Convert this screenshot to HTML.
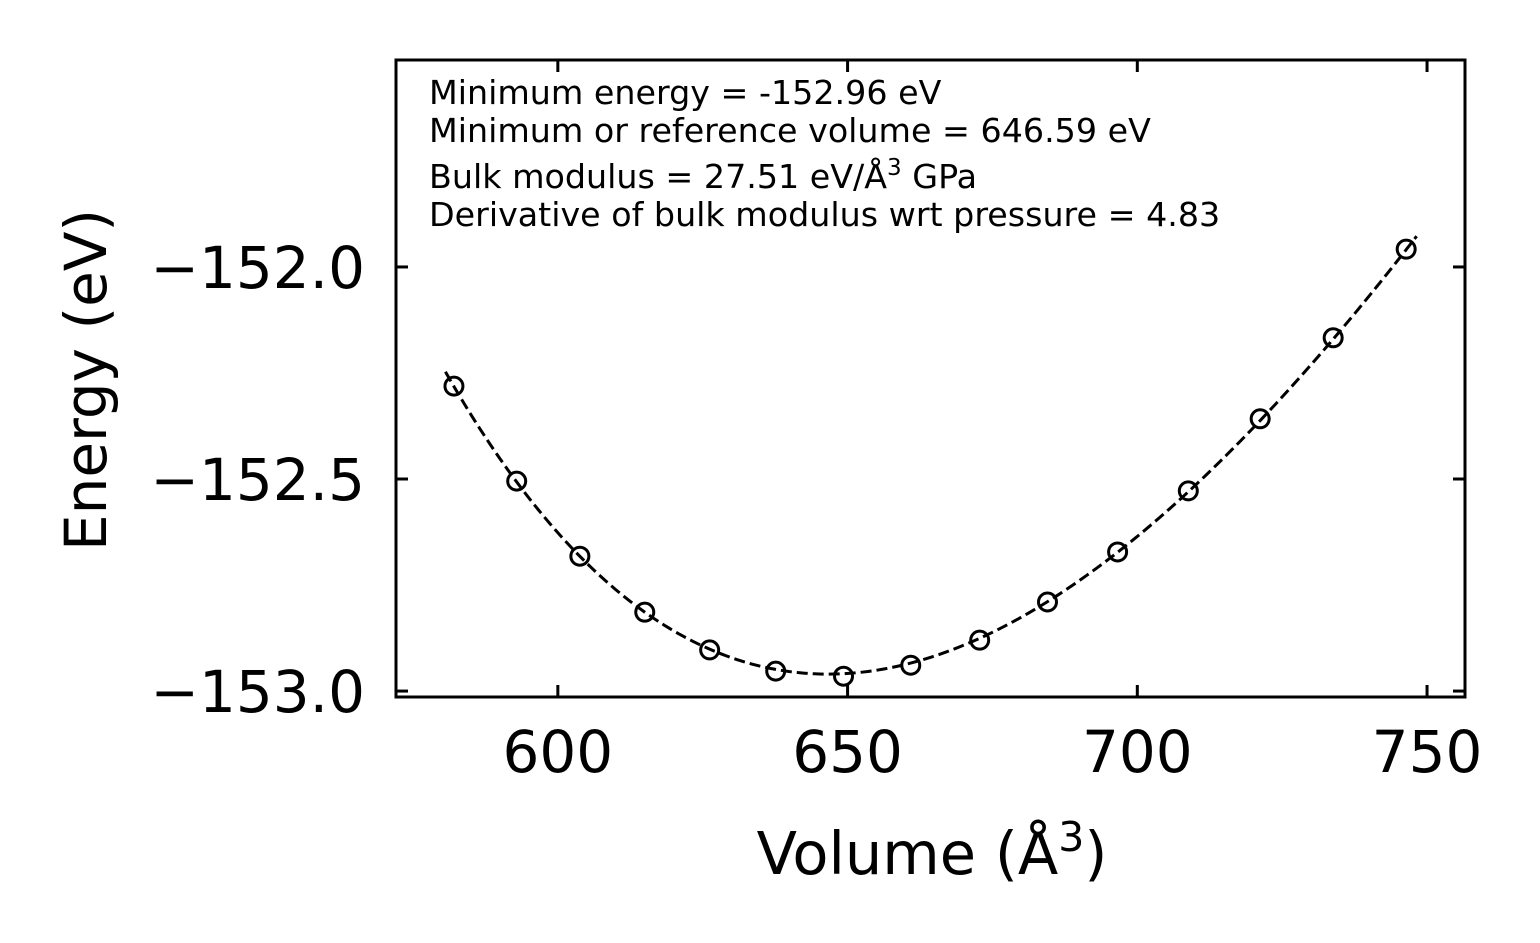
<!DOCTYPE html>
<html><head><meta charset="utf-8"><style>
body{margin:0;background:#fff}
svg{display:block;font-family:"DejaVu Sans","Liberation Sans",sans-serif}
</style></head><body>
<svg id="chart" width="1540" height="943">
<g id="plot"></g>
<g font-size="33.3" fill="#000">
<text x="429" y="104">Minimum energy = -152.96 eV</text>
<text x="429" y="142">Minimum or reference volume = 646.59 eV</text>
<text x="429" y="188">Bulk modulus = 27.51 eV/Å<tspan dy="-13" font-size="23">3</tspan><tspan dy="13"> GPa</tspan></text>
<text x="429" y="226">Derivative of bulk modulus wrt pressure = 4.83</text>
</g>
<text x="932" y="874" text-anchor="middle" font-size="59">Volume (Å<tspan dy="-23" font-size="41">3</tspan><tspan dy="23">)</tspan></text>
<text transform="translate(106,380) rotate(-90)" text-anchor="middle" font-size="58">Energy (eV)</text>
</svg>
<script>
const volumes=[582.07,592.9,603.8,615.0,626.2,637.6,649.3,660.9,672.8,684.5,696.6,708.8,721.2,733.8,746.4];
const energies=[-152.281,-152.505,-152.682,-152.814,-152.903,-152.953,-152.965,-152.939,-152.880,-152.790,-152.672,-152.528,-152.358,-152.167,-151.958];
const xTicks=[600,650,700,750];
const yTicks=[-152.0,-152.5,-153.0];
const fitParams=[-152.96,646.59,27.51,4.83];
const fitRange=[580.6,748.2];

const L=396,R=1465,T=60,B=697;
const xMin=572.07,xMax=756.55,yMin=-153.014,yMax=-151.512;
const sx=v=>L+(v-xMin)/(xMax-xMin)*(R-L);
const sy=v=>B-(v-yMin)/(yMax-yMin)*(B-T);
const NS="http://www.w3.org/2000/svg";
const g=document.getElementById('plot');
function mk(t,a){const e=document.createElementNS(NS,t);for(const k in a)e.setAttribute(k,a[k]);g.appendChild(e);return e;}

const [E0,V0,Bg,Bp]=fitParams;const Bev=Bg/160.21766;
function bm(V){const r=Math.pow(V0/V,2/3);const e=r-1;return E0+9*V0*Bev/16*(e*e*e*Bp+e*e*(6-4*r));}
let d='';for(let i=0;i<=200;i++){const v=fitRange[0]+(fitRange[1]-fitRange[0])*i/200;d+=(i?'L':'M')+sx(v).toFixed(2)+','+sy(bm(v)).toFixed(2);}
const fit=mk('path',{d:d,fill:'none',stroke:'#000','stroke-width':3,'stroke-dasharray':'11,5'});



volumes.forEach((v,i)=>{const c=mk('circle',{cx:sx(v),cy:sy(energies[i]),r:9,fill:'none',stroke:'#000','stroke-width':3});

});

xTicks.forEach(t=>{const x=sx(t);
const a=mk('line',{x1:x,x2:x,y1:B,y2:B-12,stroke:'#000','stroke-width':3});


const b=mk('line',{x1:x,x2:x,y1:T,y2:T+12,stroke:'#000','stroke-width':3});


const l=mk('text',{x:x,y:B+75,'text-anchor':'middle','font-size':58});l.textContent=t;

});
yTicks.forEach(t=>{const y=sy(t);
const a=mk('line',{x1:L,x2:L+12,y1:y,y2:y,stroke:'#000','stroke-width':3});


const b=mk('line',{x1:R,x2:R-12,y1:y,y2:y,stroke:'#000','stroke-width':3});


const l=mk('text',{x:L-31,y:y+21,'text-anchor':'end','font-size':58});l.textContent='\u2212'+Math.abs(t).toFixed(1);

});

const fr=mk('rect',{x:L,y:T,width:R-L,height:B-T,fill:'none',stroke:'#000','stroke-width':3});


</script>
</body></html>
